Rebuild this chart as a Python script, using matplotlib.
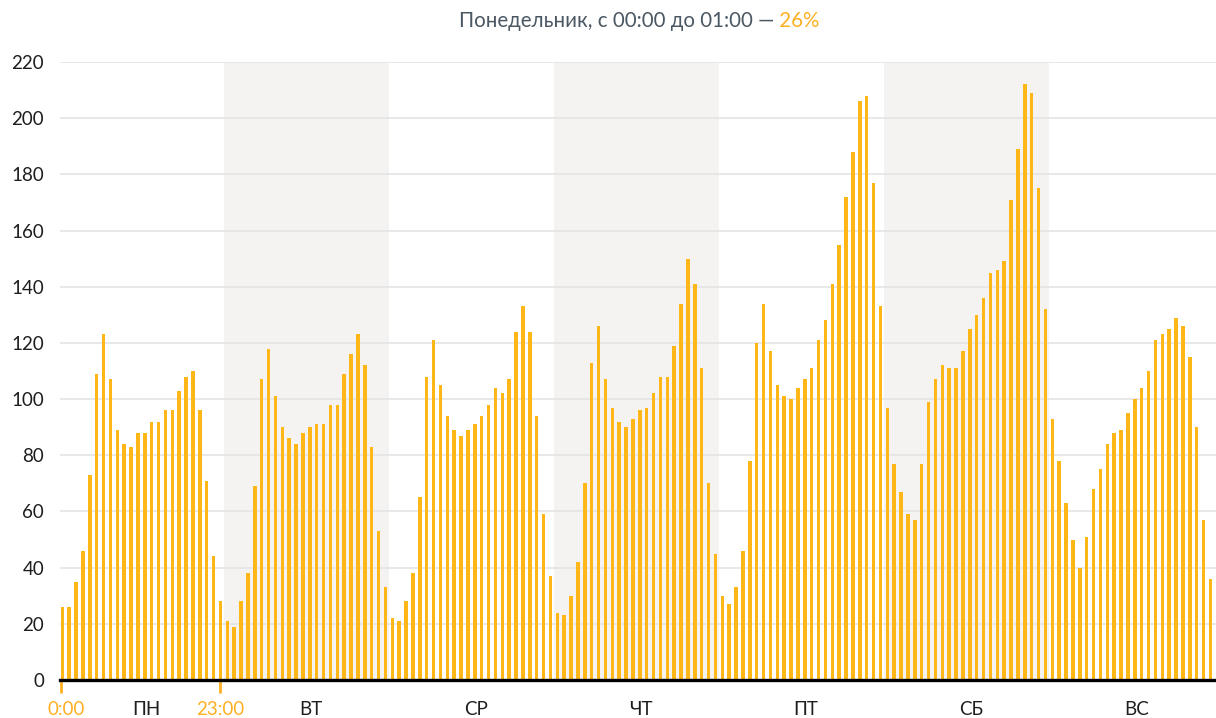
import matplotlib
matplotlib.use("Agg")
import matplotlib.pyplot as plt
import matplotlib.transforms as mtransforms

plt.rcParams['font.family'] = ['Lato', 'Noto Sans', 'DejaVu Sans']

# ---- data -------------------------------------------------------------
days = ["ПН", "ВТ", "СР", "ЧТ", "ПТ", "СБ", "ВС"]
mon = [26, 26, 35, 46, 73, 109, 123, 107, 89, 84, 83, 88, 88, 92, 92, 96, 96, 103, 108, 110, 96, 71, 44, 28]
tue = [21, 19, 28, 38, 69, 107, 118, 101, 90, 86, 84, 88, 90, 91, 91, 98, 98, 109, 116, 123, 112, 83, 53, 33]
wed = [22, 21, 28, 38, 65, 108, 121, 105, 94, 89, 87, 89, 91, 94, 98, 104, 102, 107, 124, 133, 124, 94, 59, 37]
thu = [24, 23, 30, 42, 70, 113, 126, 107, 97, 92, 90, 93, 96, 97, 102, 108, 108, 119, 134, 150, 141, 111, 70, 45]
fri = [30, 27, 33, 46, 78, 120, 134, 117, 105, 101, 100, 104, 107, 111, 121, 128, 141, 155, 172, 188, 206, 208, 177, 133]
sat = [97, 77, 67, 59, 57, 77, 99, 107, 112, 111, 111, 117, 125, 130, 136, 145, 146, 149, 171, 189, 212, 209, 175, 132]
sun = [93, 78, 63, 50, 40, 51, 68, 75, 84, 88, 89, 95, 100, 104, 110, 121, 123, 125, 129, 126, 115, 90, 57, 36]
week = [mon, tue, wed, thu, fri, sat, sun]
yticks = list(range(0, 221, 20))
title_main = "Понедельник, с 00:00 до 01:00 —"
title_pct = " 26%"
hour_labels = ["0:00", "23:00"]
hour_ticks = [-0.2, 23]

# ---- style ------------------------------------------------------------
BAR = "#FFB617"
ORANGE = "#FDB022"
BAND = "#F4F3F2"
GRID = "#E4E4E4"
TXT = "#1E1E1E"
TITLE = "#4B5863"

W, H = 1216, 718
fig = plt.figure(figsize=(W / 100, H / 100), dpi=100)
x_left, x_right = 60, 1216
y_top, y_base = 62, 680
ax = fig.add_axes([x_left / W, (H - y_base) / H, (x_right - x_left) / W, (y_base - y_top) / H])

slot = 6.875
x0 = 62.3
ax.set_xlim((x_left - x0) / slot, (x_right - x0) / slot)
ax.set_ylim(0, 220)

values = [v for d in week for v in d]
xs = list(range(len(values)))

# shaded bands for every other day
for d in range(1, 7, 2):
    ax.axvspan(24 * d - 0.5, 24 * d + 23.5, color=BAND, lw=0, zorder=0)

for y in yticks[1:]:
    ax.axhline(y, color=GRID, lw=1.2, zorder=1)

ax.bar(xs, values, width=0.5, color=BAR, zorder=2)
ax.axhline(0, color="black", lw=2.4, zorder=4, clip_on=False)

for s in ax.spines.values():
    s.set_visible(False)

ax.set_yticks(yticks)
ax.set_yticklabels([str(v) for v in yticks])
ax.tick_params(axis='y', length=0, pad=11.5, labelsize=13.5, labelcolor=TXT)
ax.set_xticks([])

# orange hour tick marks below the baseline
tick_trans = mtransforms.blended_transform_factory(ax.transData, fig.transFigure)
for hx in hour_ticks:
    ax.plot([hx, hx], [1 - 681 / H, 1 - 693 / H], transform=tick_trans,
            color=ORANGE, lw=2.0, clip_on=False, solid_capstyle='butt', zorder=3)

ylab = 1 - 715 / H
ax.text(0.55, ylab, hour_labels[0], transform=tick_trans, ha='center', va='baseline',
        fontsize=13.5, color=ORANGE)
ax.text(23, ylab, hour_labels[1], transform=tick_trans, ha='center', va='baseline',
        fontsize=13.5, color=ORANGE)
for d, name in enumerate(days):
    ax.text(24 * d + 12.2, ylab, name, transform=tick_trans, ha='center', va='baseline',
            fontsize=13.5, color=TXT)

# title in two colours
split_x = 774 / W
ty = 1 - 27 / H
fig.text(split_x, ty, title_main, ha='right', va='baseline', fontsize=14.8, color=TITLE)
fig.text(split_x, ty, title_pct, ha='left', va='baseline', fontsize=14.8, color=ORANGE)

fig.savefig("out.png", dpi=100)
